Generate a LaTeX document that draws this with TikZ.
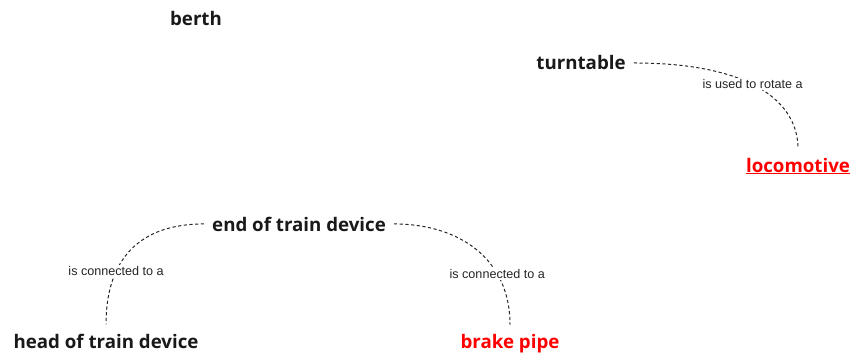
\documentclass[tikz,border=0pt]{standalone}
\usepackage{fontspec}
\setmainfont{Open Sans}
\newfontfamily\labelfont{Liberation Sans}
\definecolor{conceptred}{HTML}{FF0000}
\begin{document}
\begin{tikzpicture}[x=1pt,y=-1pt,
  concept/.style={font=\bfseries\fontsize{18.7}{22}\selectfont, text=black!90,
    inner xsep=8pt, inner ysep=9pt, anchor=base},
  focus/.style={concept, text=conceptred},
  link/.style={draw=black!85, line width=1pt, dash pattern=on 3.2pt off 2.5pt},
  linklabel/.style={font=\labelfont\fontsize{12.6}{14}\selectfont, text=black!85,
    fill=white, inner sep=1.5pt}]
\useasboundingbox (0,0) rectangle (853,358);

\node[concept] (berth) at (196,26) {berth};
\node[concept] (turn) at (581,70) {turntable};
\node[focus] (loco) at (798,172) {\underline{locomotive}};
\node[concept] (eotd) at (299,231) {end of train device};
\node[concept] (hotd) at (106,348) {head of train device};
\node[focus] (brake) at (510,348) {brake pipe};

\draw[link] (turn.east) .. controls +(120,0) and +(0,-45) .. (loco.north)
  node[linklabel, pos=0.45] {is used to rotate a};
\draw[link] (eotd.west) .. controls +(-65,0) and +(0,-65) .. (hotd.north)
  node[linklabel, pos=0.68] {is connected to a};
\draw[link] (eotd.east) .. controls +(65,0) and +(0,-66) .. (brake.north)
  node[linklabel, pos=0.7] {is connected to a};
\end{tikzpicture}
\end{document}
